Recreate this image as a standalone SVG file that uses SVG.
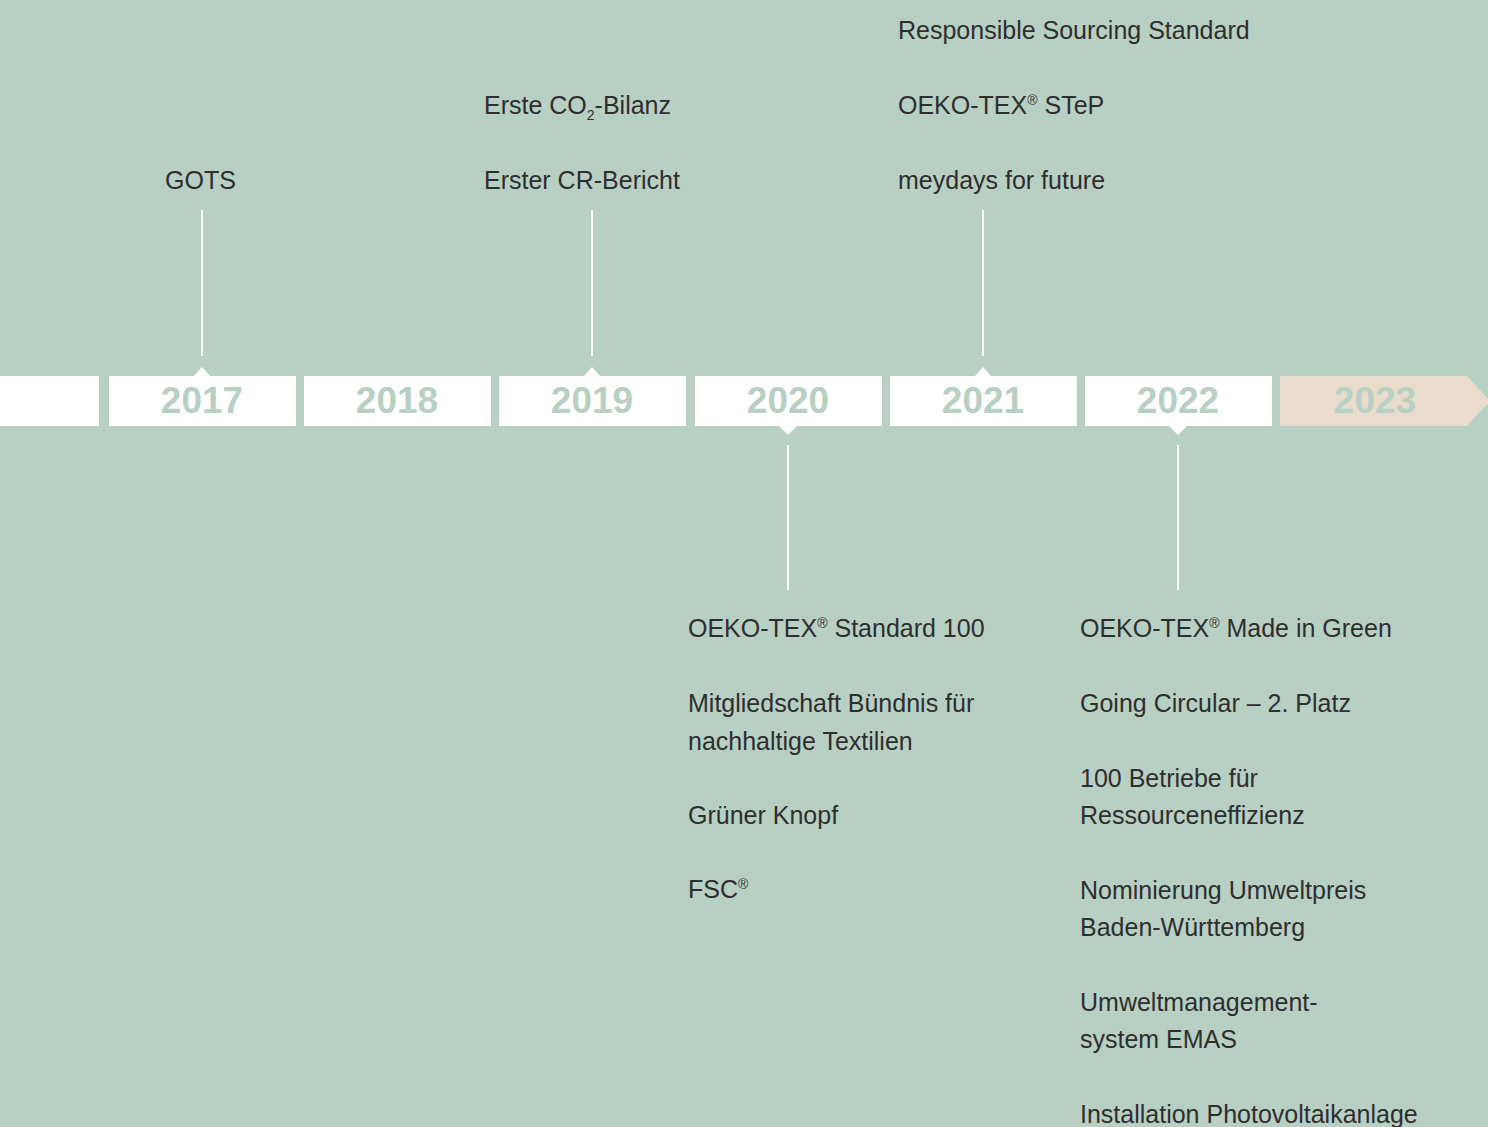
<svg xmlns="http://www.w3.org/2000/svg" width="1488" height="1127" viewBox="0 0 1488 1127">
<style>
.bg{fill:#b8cfc3}
.box{fill:#ffffff}
.box23{fill:#e9dccc}
.yr{font-family:"Liberation Sans",Arial,sans-serif;font-weight:bold;font-size:37px;fill:#b8cfc3;text-anchor:middle}
.lbl{font-family:"Liberation Sans",Arial,sans-serif;font-size:25px;fill:#2e2e2e}
.sup{font-size:14px}
.ln{stroke:#ffffff;stroke-width:2;fill:none}
</style>
<rect class="bg" x="0" y="0" width="1488" height="1127"/>

<g id="bar-start"><rect class="box" x="0" y="376" width="99" height="50"/></g>
<g id="y2017"><rect class="box" x="109" y="376" width="187" height="50"/><polygon class="box" points="194,376 202,367 210,376"/><text class="yr" x="202" y="413">2017</text></g>
<g id="y2018"><rect class="box" x="304" y="376" width="187" height="50"/><text class="yr" x="397" y="413">2018</text></g>
<g id="y2019"><rect class="box" x="499" y="376" width="187" height="50"/><polygon class="box" points="584,376 592,367 600,376"/><text class="yr" x="592" y="413">2019</text></g>
<g id="y2020"><rect class="box" x="695" y="376" width="187" height="50"/><polygon class="box" points="779,426 788,435 797,426"/><text class="yr" x="788" y="413">2020</text></g>
<g id="y2021"><rect class="box" x="890" y="376" width="187" height="50"/><polygon class="box" points="975,376 983,367 991,376"/><text class="yr" x="983" y="413">2021</text></g>
<g id="y2022"><rect class="box" x="1085" y="376" width="187" height="50"/><polygon class="box" points="1169,426 1178,435 1187,426"/><text class="yr" x="1178" y="413">2022</text></g>
<g id="y2023"><polygon class="box23" points="1280,376 1467,376 1490,401 1467,426 1280,426"/><text class="yr" x="1375" y="413">2023</text></g>

<g id="connectors">
<line class="ln" x1="202" y1="210" x2="202" y2="356"/>
<line class="ln" x1="592" y1="210" x2="592" y2="356"/>
<line class="ln" x1="983" y1="210" x2="983" y2="356"/>
<line class="ln" x1="788" y1="445" x2="788" y2="590"/>
<line class="ln" x1="1178" y1="445" x2="1178" y2="590"/>
</g>

<g id="n2017"><text class="lbl" x="165" y="189">GOTS</text></g>
<g id="n2019">
<text class="lbl" x="484" y="114">Erste CO<tspan class="sup" dy="6">2</tspan><tspan dy="-6">-Bilanz</tspan></text>
<text class="lbl" x="484" y="189">Erster CR-Bericht</text>
</g>
<g id="n2021">
<text class="lbl" x="898" y="39">Responsible Sourcing Standard</text>
<text class="lbl" x="898" y="114">OEKO-TEX<tspan class="sup" dy="-9">®</tspan><tspan dy="9"> STeP</tspan></text>
<text class="lbl" x="898" y="189">meydays for future</text>
</g>
<g id="n2020">
<text class="lbl" x="688" y="637">OEKO-TEX<tspan class="sup" dy="-9">®</tspan><tspan dy="9"> Standard 100</tspan></text>
<text class="lbl" x="688" y="712">Mitgliedschaft Bündnis für</text>
<text class="lbl" x="688" y="749.5">nachhaltige Textilien</text>
<text class="lbl" x="688" y="824">Grüner Knopf</text>
<text class="lbl" x="688" y="898">FSC<tspan class="sup" dy="-9">®</tspan></text>
</g>
<g id="n2022">
<text class="lbl" x="1080" y="637">OEKO-TEX<tspan class="sup" dy="-9">®</tspan><tspan dy="9"> Made in Green</tspan></text>
<text class="lbl" x="1080" y="712">Going Circular – 2. Platz</text>
<text class="lbl" x="1080" y="787">100 Betriebe für</text>
<text class="lbl" x="1080" y="824">Ressourceneffizienz</text>
<text class="lbl" x="1080" y="899">Nominierung Umweltpreis</text>
<text class="lbl" x="1080" y="936">Baden-Württemberg</text>
<text class="lbl" x="1080" y="1011">Umweltmanagement-</text>
<text class="lbl" x="1080" y="1048">system EMAS</text>
<text class="lbl" x="1080" y="1123">Installation Photovoltaikanlage</text>
</g>
</svg>
